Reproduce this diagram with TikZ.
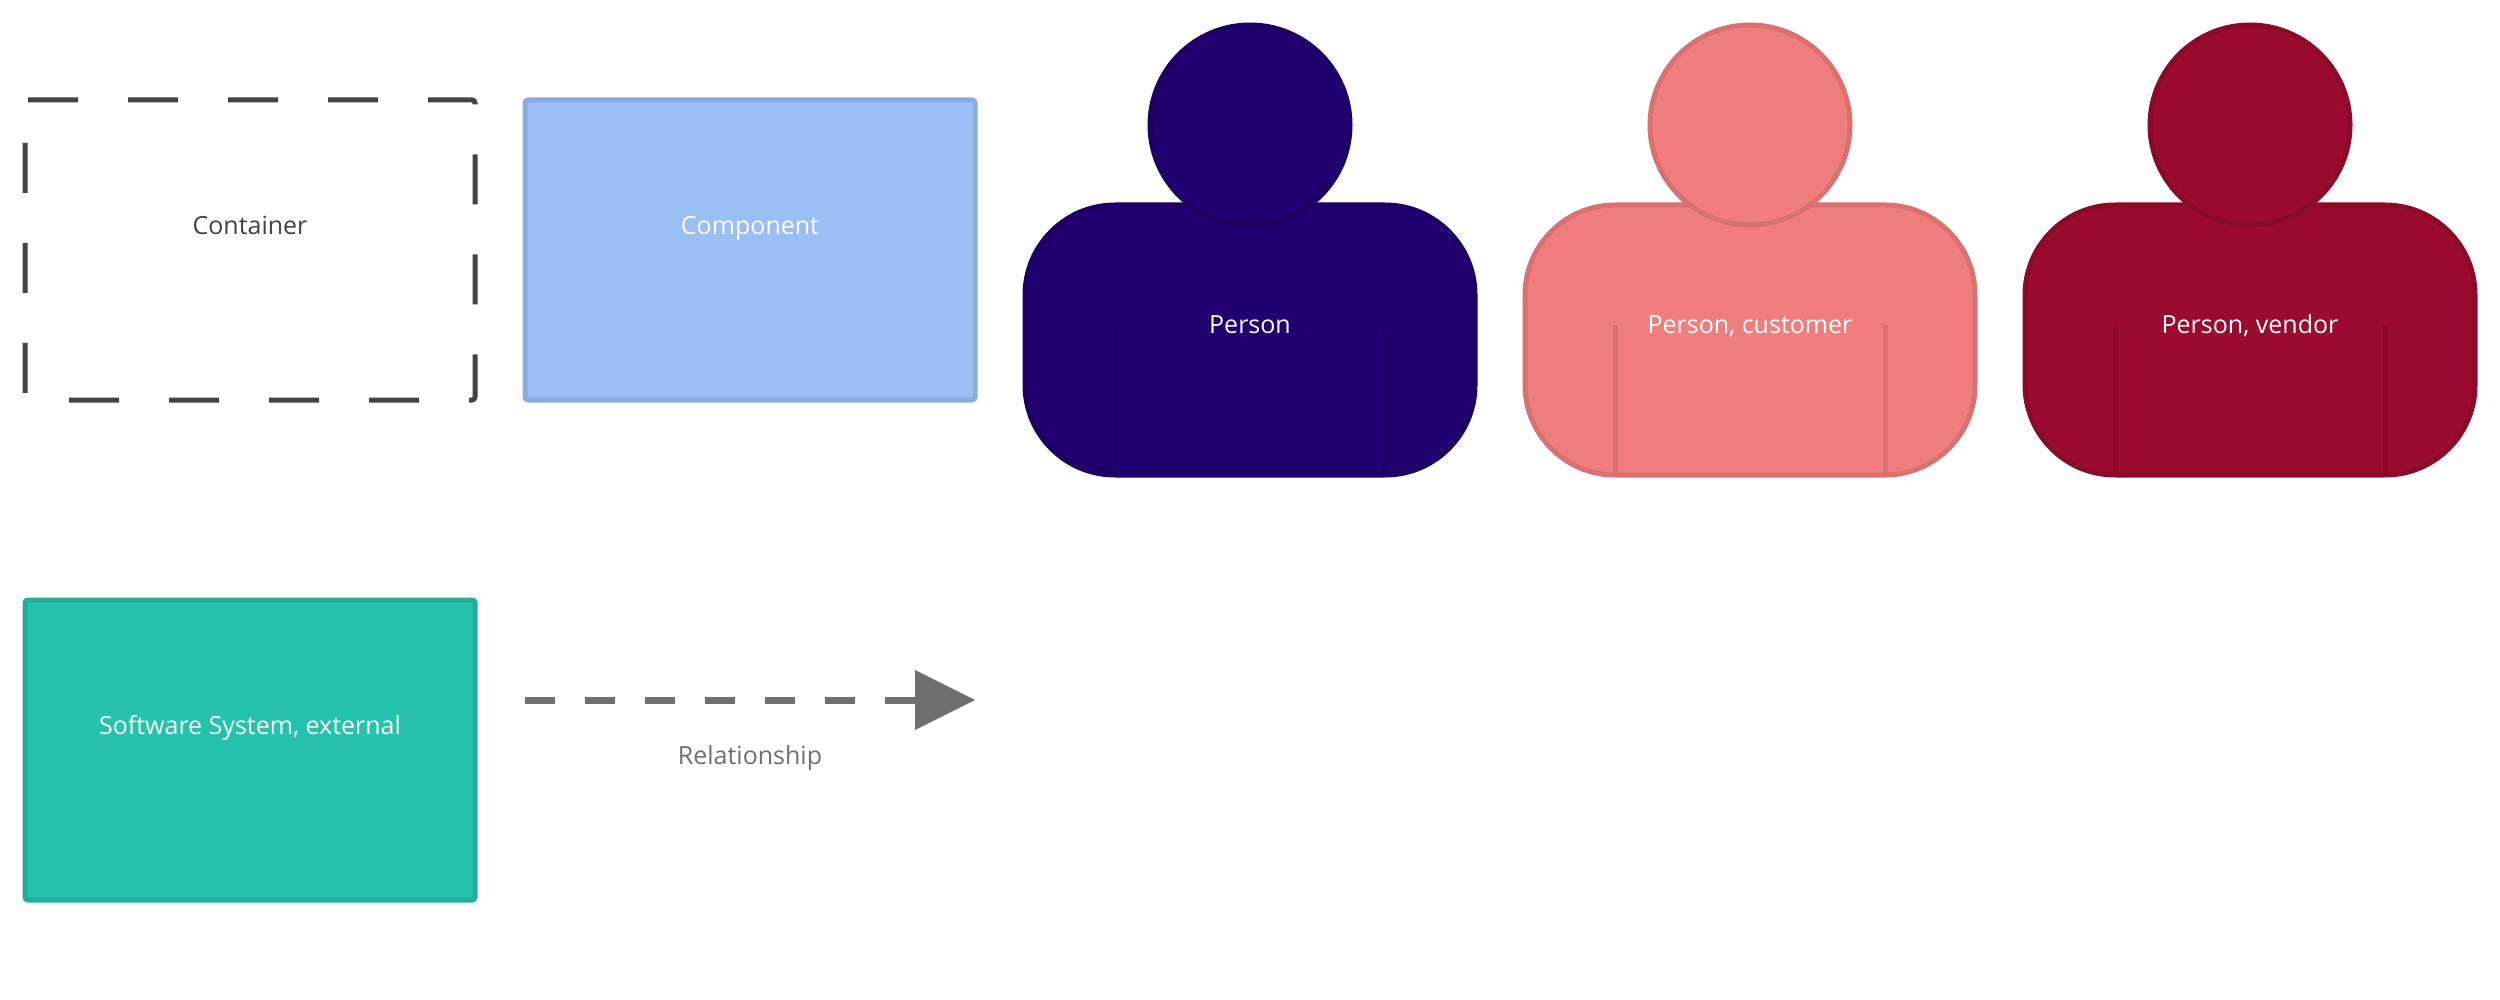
\documentclass[tikz,border=0pt]{standalone}
\usepackage{fontspec}
\setmainfont{Open Sans}
\usetikzlibrary{arrows.meta,calc}
\definecolor{boxtext}{HTML}{444444}
\definecolor{compfill}{HTML}{9ABFF5}
\definecolor{compline}{HTML}{8AACDD}
\definecolor{extfill}{HTML}{25C2AE}
\definecolor{extline}{HTML}{22AE9C}
\definecolor{relcol}{HTML}{707070}
\definecolor{pfill}{HTML}{21006F}
\definecolor{pline}{HTML}{1E0065}
\definecolor{cfill}{HTML}{F17E7E}
\definecolor{cline}{HTML}{D97171}
\definecolor{vfill}{HTML}{9A0B2F}
\definecolor{vline}{HTML}{8B0A2A}
\tikzset{
  x=1pt,y=-1pt,
  label text/.style={font=\fontsize{25}{30}\selectfont,inner sep=0pt,anchor=base},
  solidbox/.style={rectangle,rounded corners=3pt,line width=5pt,outer sep=0pt,minimum width=450pt,minimum height=300pt,inner sep=0pt},
  personhead/.style={circle,draw,line width=5pt,outer sep=0pt,minimum size=200pt,inner sep=0pt},
  personbody/.style={rectangle,draw,rounded corners=90pt,line width=5pt,outer sep=0pt,minimum width=450pt,minimum height=270pt,inner sep=0pt},
  armline/.style={line width=5pt},
  relline/.style={line width=7pt,relcol,dash pattern=on 30pt off 30pt,-{Triangle[length=60pt,width=60pt,line width=0pt,color=relcol,sep=0pt]}}
}
\newcommand{\persondraw}[5]{%
  % #1 name, #2 centre x, #3 fill, #4 line, #5 text
  \node[personbody,fill=#3,draw=#4] (#1body) at (#2,340) {};
  \coordinate (#1al) at ($(#1body.south west)+(90,0)$);
  \coordinate (#1ar) at ($(#1body.south east)+(-90,0)$);
  \coordinate (#1alt) at ($(#1al)+(0,-150)$);
  \coordinate (#1art) at ($(#1ar)+(0,-150)$);
  \draw[armline,#4] (#1al) -- (#1alt);
  \draw[armline,#4] (#1ar) -- (#1art);
  \node[personhead,fill=#3,draw=#4] (#1head) at (#2,125) {};
  \node[label text,white] (#1text) at (#2,334) {#5};
}
\begin{document}
\begin{tikzpicture}
\useasboundingbox (0,0) rectangle (2500,1000);
\fill[white] (0,0) rectangle (2500,1000);
% Container: dashed outline starts just after the top-left corner
\draw[line width=5pt,boxtext,dash pattern=on 50pt off 50pt]
  (28,100) -- (472,100) arc[start angle=-90,end angle=0,radius=3]
  -- (475,397) arc[start angle=0,end angle=90,radius=3]
  -- (28,400) arc[start angle=90,end angle=180,radius=3]
  -- (25,103) arc[start angle=180,end angle=270,radius=3];
\node[label text,boxtext] (containertext) at (250,234.5) {Container};
% Component
\node[solidbox,fill=compfill,draw=compline] (component) at (750,250) {};
\node[label text,white] (componenttext) at (750,234.5) {Component};
% Software System, external
\node[solidbox,fill=extfill,draw=extline] (external) at (250,750) {};
\node[label text,white] (externaltext) at (250,734.5) {Software System, external};
% Relationship
\coordinate (relstart) at (525,700);
\coordinate (relend) at (975,700);
\draw[relline] (relstart) -- (relend);
\node[label text,relcol] (reltext) at (750,764.5) {Relationship};
% Persons
\persondraw{person}{1250}{pfill}{pline}{Person}
\persondraw{customer}{1750}{cfill}{cline}{Person, customer}
\persondraw{vendor}{2250}{vfill}{vline}{Person, vendor}
\end{tikzpicture}
\end{document}
